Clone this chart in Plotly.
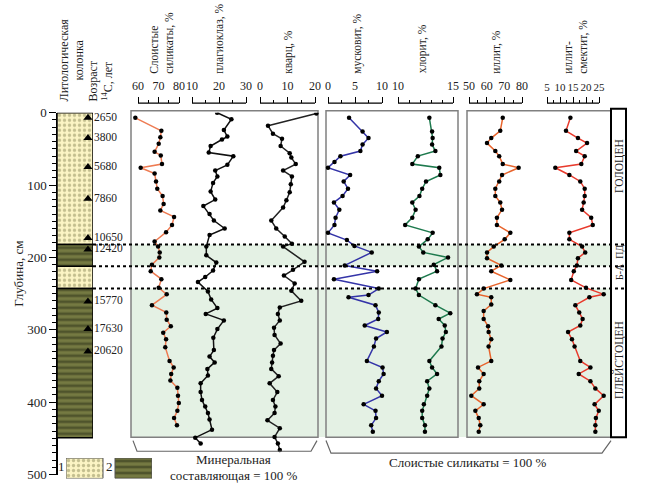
import plotly.graph_objects as go

W, H = 648, 500
def px(x): return x / W
def py(y): return 1 - y / H

FONT = "Liberation Serif"

# ---------------- data ----------------
sil_depth = [7,25,34,43,54,59,71,76,84,95,105,115,126,135,144,155,165,178,185,193,200,210,219,230,242,251,266,276,286,295,304,313,324,343,352,361,370,380,391,401,412,422,432]
sil_vals = [58.7,71.4,70.9,70.1,68.1,71.1,71.7,61.3,68.1,68.8,69.4,72.0,72.5,70.9,77.6,76.6,73.7,68.1,69.8,70.6,70.4,66.8,66.2,71.4,70.1,74.0,66.8,73.8,74.0,76.0,72.3,73.7,73.3,75.4,77.4,76.2,75.8,79.2,79.5,79.9,79.2,77.6,79.0]

plag_depth = [0,9,24,33,37,46,55,60,72,80,88,97,109,120,129,140,149,160,169,185,197,207,218,227,234,247,258,270,278,287,299,311,328,337,345,354,363,374,386,397,406,415,424,438,449,457]
plag_vals = [19.3,24.6,21.8,23.1,21.1,16.9,16.2,25.3,23.1,18.6,19.4,17.8,16.9,18.6,14.2,16.5,18.1,22.1,16.5,15.3,15.3,19.0,17.8,14.9,12.2,15.9,17.1,19.4,15.1,21.8,19.4,17.9,18.1,16.5,18.4,15.7,15.9,13.2,13.2,13.7,14.9,15.9,16.5,17.4,11.2,13.2]

qtz_depth = [1,18,29,36,46,56,62,71,80,88,99,110,121,131,149,160,171,181,185,206,217,225,236,246,260,269,278,287,297,307,319,328,336,345,354,364,374,386,397,406,415,425,436,448,457,466]
qtz_vals = [20.5,2.9,4.7,8.0,7.5,10.8,11.4,13.0,8.4,11.6,11.2,10.8,9.6,8.4,4.1,5.9,9.0,11.6,8.4,16.2,12.0,8.7,12.6,11.4,15.0,7.2,6.5,7.2,5.1,5.3,7.5,5.1,4.7,4.4,4.1,6.8,3.5,6.3,4.7,5.6,5.3,2.7,7.2,5.3,6.5,7.2]

musc_depth = [7,26,35,44,53,60,68,76,86,95,105,115,124,134,145,155,166,176,184,193,211,219,230,243,252,255,266,276,285,294,303,312,323,343,352,361,371,381,391,403,412,422,432,441]
musc_vals = [3.9,6.4,7.5,6.4,6.0,2.3,1.2,0.0,4.1,2.9,3.7,2.7,1.1,2.1,1.4,1.2,0.0,3.5,4.9,8.1,3.1,9.1,1.1,9.4,7.5,3.8,8.8,9.4,9.3,6.8,10.9,8.9,8.5,7.2,10.1,10.3,9.4,8.9,10.0,6.6,8.8,8.9,8.0,8.3]

chl_depth = [7,26,35,44,53,60,71,76,86,95,105,115,124,134,145,155,166,175,185,193,200,210,219,230,243,252,266,277,285,294,303,312,323,343,352,361,371,381,391,403,412,422,432,441]
chl_vals = [12.85,13.1,13.15,13.1,13.4,11.8,11.3,13.75,13.85,12.55,12.2,11.95,11.3,11.6,11.3,10.65,13.15,12.7,11.9,12.3,14.55,13.25,13.55,11.9,11.6,11.9,13.4,14.75,13.7,14.25,14.35,14.05,13.95,12.85,13.1,13.55,12.65,12.85,12.65,12.35,12.2,12.2,12.45,12.45]

ill_depth = [7,25,35,42,53,60,71,76,86,95,105,115,124,134,145,155,166,175,185,193,201,211,219,231,243,251,255,265,274,285,295,303,313,323,343,352,361,371,381,391,403,412,422,432,441]
ill_vals = [69.1,67.7,62.6,60.2,64.9,67.1,69.1,78.1,68.7,67.1,64.9,64.9,67.7,68.7,65.8,65.8,73.4,70.2,64.0,60.2,60.2,68.3,62.6,73.4,58.3,54.5,62.6,62.6,58.3,58.3,60.8,61.1,62.6,61.1,62.6,55.1,58.3,55.8,55.8,51.3,58.3,53.6,55.5,56.4,55.5]

ism_depth = [7,25,35,42,53,60,71,76,86,95,105,115,124,134,145,155,166,175,185,193,201,211,219,231,242,251,255,266,276,285,294,303,313,323,343,352,361,371,381,391,403,412,422,432,441]
ism_vals = [14.0,12.3,16.9,20.4,16.2,19.5,18.2,8.2,13.6,17.8,19.5,19.5,19.1,18.5,22.0,22.6,13.6,13.6,18.5,19.7,16.9,16.5,15.3,14.3,20.0,26.8,21.3,15.9,17.4,18.7,17.8,13.1,14.6,15.6,17.8,21.7,17.2,21.7,23.6,26.8,23.3,24.9,23.8,23.6,23.6]

age_depth = [7,35,75,119,173,189,261,299,330]
age_labels = ["2650","3800","5680","7860","10650","12420","15770","17630","20620"]

litho_sand_top = [0, 212]
litho_sand_thick = [182, 31]
litho_clay_top = [182, 243]
litho_clay_thick = [30, 206]

boundary_depths = [182, 212, 243]
shade_tops = [182, 243]
shade_bottoms = [212, 448]

# ---------------- figure ----------------
fig = go.Figure()

SAND = dict(shape=".", bgcolor="#FBF4C4", fgcolor="#8C8A5A", size=5, solidity=0.35)
CLAY = dict(shape="-", bgcolor="#757A42", fgcolor="#2A2E16", size=6, solidity=0.45)

series = [
    ("sil", sil_depth, sil_vals, "#EE7B52", 60, 138, 80, 179, [60,70,80], [65,75], "Слоистые<br>силикаты, %", 162, 12),
    ("plag", plag_depth, plag_vals, "#111111", 10, 192, 30, 246, [10,20,30], [15,25], "плагиоклаз, %", 220, 12),
    ("qtz", qtz_depth, qtz_vals, "#222222", 0, 260, 20, 315, [0,10,20], [5,15], "кварц, %", 289, 12),
    ("musc", musc_depth, musc_vals, "#3434A8", 0, 328, 10, 382, [0,5,10], [2.5,7.5], "мусковит, %", 358, 12),
    ("chl", chl_depth, chl_vals, "#1E7A4E", 10, 398, 15, 453, [10,15], [11,12,13,14], "хлорит, %", 422, 12),
    ("ill", ill_depth, ill_vals, "#E8642C", 50, 469, 80, 522, [50,60,70,80], [55,65,75], "иллит, %", 497, 12),
    ("ism", ism_depth, ism_vals, "#E83A2C", 5, 547, 25, 599, [5,10,15,20,25], [7.5,12.5,17.5,22.5], "иллит-<br>смектит, %", 576, 11),
]

AX_Y = 99
shapes = []
annotations = []
layout_axes = {}

for t, b in zip(shade_tops, shade_bottoms):
    shapes.append(dict(type="rect", xref="paper", yref="y", x0=px(131), x1=px(611), y0=t, y1=b,
                       fillcolor="#E4F1E4", line=dict(width=0), layer="below"))
for x0, x1 in [(131, 318), (326, 458), (467, 611)]:
    shapes.append(dict(type="rect", xref="paper", yref="paper", x0=px(x0), x1=px(x1), y0=py(443.5), y1=py(107),
                       line=dict(color="#808080", width=1.5), fillcolor="rgba(0,0,0,0)", layer="below"))

for i, (nm, dep, vals, col, v0, p0, v1, p1, majors, minors, title, tx, tfs) in enumerate(series):
    k = i + 1
    scale = (v1 - v0) / (p1 - p0)
    lo = v0 - p0 * scale
    hi = v0 + (W - p0) * scale
    layout_axes[f"xaxis{k}"] = dict(
        domain=[0, 1], range=[lo, hi], anchor="free", position=py(AX_Y), side="top",
        tickmode="array", tickvals=majors, ticktext=[str(m) for m in majors], tickangle=0,
        ticks="outside", ticklen=6, tickwidth=1.2, tickcolor="black", ticklabelstandoff=2,
        minor=dict(tickvals=minors, ticks="outside", ticklen=3, tickwidth=1.2, tickcolor="black"),
        showline=False, showgrid=False, zeroline=False,
        tickfont=dict(family=FONT, size=tfs, color="#222"),
    )
    shapes.append(dict(type="line", xref=f"x{k}", yref="paper", x0=v0, x1=v1, y0=py(AX_Y), y1=py(AX_Y),
                       line=dict(color="black", width=1.3)))
    fig.add_trace(go.Scatter(
        x=vals, y=dep, xaxis=f"x{k}", yaxis="y", mode="lines+markers",
        line=dict(color=col, width=1.5), marker=dict(color="black", size=4.5),
        showlegend=False, hoverinfo="skip"))
    annotations.append(dict(text=title, x=px(tx), y=py(71), xref="paper", yref="paper",
                            xanchor="center", yanchor="bottom", textangle=-90, showarrow=False,
                            align="left", font=dict(family=FONT, size=11.5, color="#222")))

LX = len(series) + 1
layout_axes[f"xaxis{LX}"] = dict(domain=[px(57), px(93)], range=[0, 1], visible=False, anchor="y")
fig.add_trace(go.Bar(x=[0.5] * len(litho_sand_top), y=litho_sand_thick, base=litho_sand_top, width=1,
                     xaxis=f"x{LX}", yaxis="y", marker=dict(pattern=SAND, line=dict(color="black", width=1.5)),
                     showlegend=False, hoverinfo="skip"))
fig.add_trace(go.Bar(x=[0.5] * len(litho_clay_top), y=litho_clay_thick, base=litho_clay_top, width=1,
                     xaxis=f"x{LX}", yaxis="y", marker=dict(pattern=CLAY, line=dict(color="black", width=1.5)),
                     showlegend=False, hoverinfo="skip"))
fig.add_trace(go.Scatter(x=[0.86] * len(age_depth), y=age_depth, xaxis=f"x{LX}", yaxis="y",
                         mode="markers+text", text=age_labels, textposition="middle right",
                         marker=dict(symbol="triangle-up", size=8, color="black"),
                         textfont=dict(family=FONT, size=11.5, color="#222"), cliponaxis=False,
                         showlegend=False, hoverinfo="skip"))

GX = LX + 1
layout_axes[f"xaxis{GX}"] = dict(domain=[px(66), px(152)], range=[-0.378, 1.378], visible=False, anchor="y2")
fig.add_trace(go.Bar(x=[0], y=[1], width=0.755, xaxis=f"x{GX}", yaxis="y2",
                     marker=dict(pattern=SAND, line=dict(color="#555", width=1)), showlegend=False, hoverinfo="skip"))
fig.add_trace(go.Bar(x=[1], y=[1], width=0.755, xaxis=f"x{GX}", yaxis="y2",
                     marker=dict(pattern=CLAY, line=dict(color="#555", width=1)), showlegend=False, hoverinfo="skip"))

for d in boundary_depths:
    shapes.append(dict(type="line", xref="paper", yref="y", x0=px(93), x1=px(626), y0=d, y1=d,
                       line=dict(color="black", width=2, dash="dot"), layer="above"))

shapes.append(dict(type="rect", xref="paper", yref="paper", x0=px(611), x1=px(626), y0=py(443.5), y1=py(105),
                   line=dict(color="black", width=2), fillcolor="rgba(0,0,0,0)"))

def brace(pts):
    return "M " + " L ".join(f"{px(a):.5f},{py(b):.5f}" for a, b in pts)
shapes.append(dict(type="path", xref="paper", yref="paper",
                   path=brace([(133, 447), (137, 458), (311, 458), (317, 447)]),
                   line=dict(color="#666", width=1.2)))
shapes.append(dict(type="path", xref="paper", yref="paper",
                   path=brace([(326, 447), (331, 460), (602, 460), (611, 447)]),
                   line=dict(color="#666", width=1.2)))

def txt(t, x, y, size=13, angle=0, xa="center", ya="middle", al="center"):
    annotations.append(dict(text=t, x=px(x), y=py(y), xref="paper", yref="paper", xanchor=xa, yanchor=ya,
                            textangle=angle, showarrow=False, align=al,
                            font=dict(family=FONT, size=size, color="#222")))

txt("Литологическая<br>колонка", 72, 100, size=12, angle=-90, ya="bottom")
txt("Возраст<br><sup>14</sup>С, лет", 101, 100, size=12, angle=-90, ya="bottom")
txt("Глубина, см", 19, 275, size=13, angle=-90)
txt("Минеральная", 233, 466, size=13)
txt("составляющая = 100 %", 233, 483, size=13)
txt("Слоистые силикаты = 100 %", 468, 470, size=13)
txt("1", 61, 474, size=13)
txt("2", 109, 474, size=13)
txt("ГОЛОЦЕН", 619, 164, size=11.5, angle=-90)
txt("Б-А  ПД", 619, 263, size=10, angle=-90)
txt("ПЛЕЙСТОЦЕН", 619, 364, size=11.5, angle=-90)

fig.update_layout(
    width=W, height=H, margin=dict(l=0, r=0, t=0, b=0),
    paper_bgcolor="white", plot_bgcolor="rgba(0,0,0,0)",
    barmode="overlay", showlegend=False,
    font=dict(family=FONT, color="#222"),
    yaxis=dict(domain=[py(482), py(109)], range=[500, 0], anchor="free", position=px(57), side="left",
               tickmode="linear", tick0=0, dtick=100, ticks="outside", ticklen=7, tickwidth=1.3, tickcolor="black",
               minor=dict(dtick=10, ticks="outside", ticklen=4, tickwidth=1.2, tickcolor="black"),
               showline=True, linecolor="black", linewidth=1.5, showgrid=False, zeroline=False,
               tickfont=dict(family=FONT, size=13, color="#222")),
    yaxis2=dict(domain=[py(486), py(465)], range=[0, 1], visible=False, anchor=f"x{GX}"),
    shapes=shapes, annotations=annotations,
    **layout_axes,
)

fig.write_html("out.html", config={"displayModeBar": False},
               post_script="document.body.style.margin='0px';document.body.style.overflow='hidden';")
